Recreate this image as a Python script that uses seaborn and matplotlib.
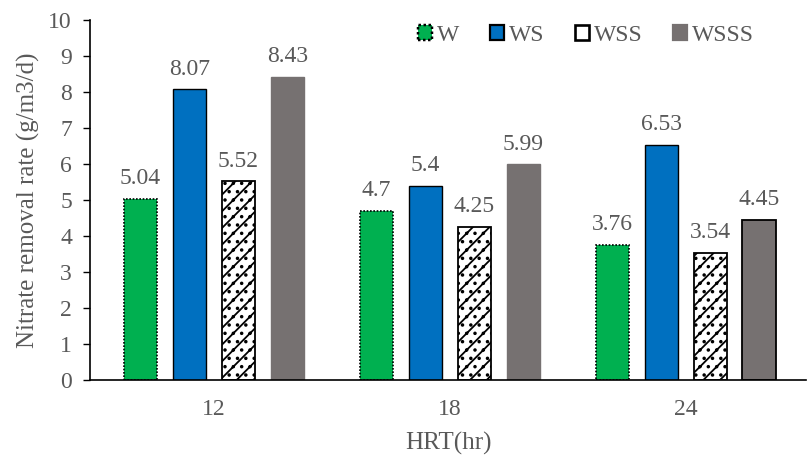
import matplotlib
matplotlib.use("Agg")
import matplotlib.pyplot as plt
import matplotlib.patches as mpatches
import pandas as pd
import seaborn as sns

# HRT groups and nitrate removal rates per system
hrt = ["12", "18", "24"]
systems = ["W", "WS", "WSS", "WSSS"]
w_vals = [5.04, 4.70, 3.76]
ws_vals = [8.07, 5.40, 6.53]
wss_vals = [5.52, 4.25, 3.54]
wsss_vals = [8.43, 5.99, 4.45]
y_ticks = [0, 1, 2, 3, 4, 5, 6, 7, 8, 9, 10]

series = {"W": w_vals, "WS": ws_vals, "WSS": wss_vals, "WSSS": wsss_vals}
df = pd.DataFrame(
    [(h, s, v) for s in systems for h, v in zip(hrt, series[s])],
    columns=["HRT", "System", "Rate"],
)

sns.set_theme(style="white")
plt.rcParams["font.family"] = "serif"
plt.rcParams["font.serif"] = ["Liberation Serif", "Times New Roman", "DejaVu Serif"]
plt.rcParams["hatch.linewidth"] = 1.3
text_color = "#595959"
fs = 17

colors = {"W": "#00B050", "WS": "#0070C0", "WSS": "#FFFFFF", "WSSS": "#767171"}

fig = plt.figure(figsize=(8.08, 4.57), dpi=100)
ax = fig.add_axes([90 / 808, 1 - 380 / 457, (806 - 90) / 808, (380 - 20) / 457])

sns.barplot(
    data=df, x="HRT", y="Rate", hue="System", order=hrt, hue_order=systems,
    palette=colors, width=0.83, gap=0.32, ax=ax, legend=False, saturation=1,
)

styles = {
    "W": dict(edgecolor="black", linestyle=(0, (1, 1)), linewidth=1.2, hatch=None),
    "WS": dict(edgecolor="black", linestyle="-", linewidth=1.0, hatch=None),
    "WSS": dict(edgecolor="black", linestyle="-", linewidth=1.3, hatch="//.."),
    "WSSS": dict(edgecolor="#767171", linestyle="-", linewidth=1.0, hatch=None),
}

for cont, name in zip(ax.containers, systems):
    st = styles[name]
    for bar in cont:
        bar.set_edgecolor(st["edgecolor"])
        bar.set_linestyle(st["linestyle"])
        bar.set_linewidth(st["linewidth"])
        if st["hatch"]:
            bar.set_hatch(st["hatch"])
    ax.bar_label(
        cont, labels=[f"{v:g}" for v in series[name]], padding=7,
        fontsize=fs, color=text_color,
    )
# last WSSS bar has a dark outline
ax.containers[3][2].set_edgecolor("black")
ax.containers[3][2].set_linewidth(1.3)

ax.set_ylim(0, 10)
ax.set_yticks(y_ticks)
ax.set_xlim(-0.525, 2.51)
ax.tick_params(axis="y", direction="out", length=5, width=1, color="black",
               labelsize=fs, labelcolor=text_color, left=True, pad=8)
ax.tick_params(axis="x", length=0, labelsize=fs, labelcolor=text_color, pad=14)
for side in ["top", "right"]:
    ax.spines[side].set_visible(False)
for side in ["left", "bottom"]:
    ax.spines[side].set_color("black")
    ax.spines[side].set_linewidth(1.2)

ax.set_xlabel("HRT(hr)", fontsize=18, color=text_color, labelpad=8)
ax.set_ylabel("Nitrate removal rate (g/m3/d)", fontsize=18, color=text_color, labelpad=6)

handles = []
for name in systems:
    st = styles[name]
    p = mpatches.Patch(facecolor=colors[name], edgecolor=st["edgecolor"],
                       linestyle=st["linestyle"], linewidth=st["linewidth"] + 0.6,
                       label=name)
    handles.append(p)
leg = ax.legend(
    handles=handles, loc="center left", bbox_to_anchor=(0.458, 0.958), ncol=4,
    frameon=False, fontsize=fs, handlelength=0.6, handleheight=0.6,
    handletextpad=0.2, columnspacing=1.3, borderpad=0, borderaxespad=0,
)
for t in leg.get_texts():
    t.set_color(text_color)

fig.savefig("out.png", dpi=100)
